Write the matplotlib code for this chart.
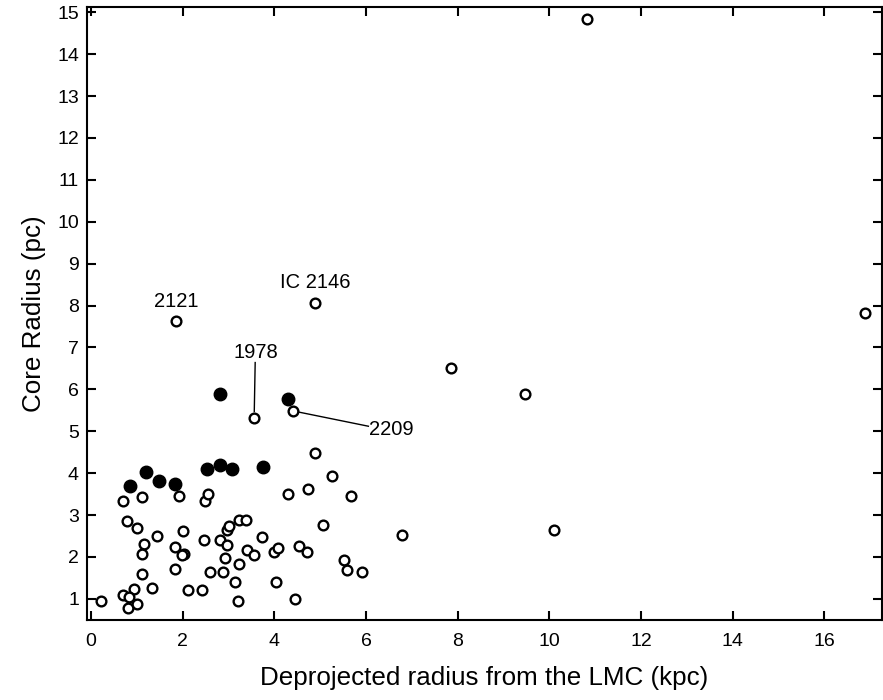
import matplotlib
matplotlib.use('Agg')
import matplotlib.pyplot as plt

plt.rcParams['font.family'] = ['Liberation Sans', 'DejaVu Sans']

# open circles: deprojected radius (kpc), core radius (pc)
open_x = [0.22, 0.69, 1.11, 1.92, 2.48, 2.56, 0.78, 1.00, 1.44, 1.16, 1.10,
          2.00, 1.84, 2.03, 1.99, 2.47, 2.81, 2.96, 2.96, 3.00, 3.22, 3.38, 3.73,
          3.41, 3.55, 4.00, 4.08, 2.92, 3.23, 2.88, 2.59, 1.82, 1.10, 3.15, 1.33,
          2.11, 2.41, 0.93, 0.69, 0.82, 0.81, 1.00, 3.20, 4.03, 4.89, 5.25, 4.74,
          4.29, 5.66, 5.07, 4.54, 4.70, 5.51, 5.59, 5.91, 4.44, 6.78,
          7.85, 9.47, 10.10, 10.83, 16.89,
          1.86, 4.89, 3.55, 4.41]
open_y = [0.94, 3.34, 3.42, 3.46, 3.34, 3.51, 2.85, 2.69, 2.49, 2.32, 2.08,
          2.61, 2.24, 2.08, 2.04, 2.41, 2.41, 2.28, 2.65, 2.75, 2.89, 2.89, 2.48,
          2.16, 2.04, 2.12, 2.21, 1.97, 1.83, 1.64, 1.64, 1.72, 1.60, 1.39, 1.27,
          1.22, 1.22, 1.23, 1.08, 1.04, 0.78, 0.88, 0.94, 1.39, 4.48, 3.94, 3.62,
          3.50, 3.46, 2.77, 2.25, 2.12, 1.92, 1.68, 1.64, 0.99, 2.53,
          6.52, 5.88, 2.65, 14.83, 7.83,
          7.63, 8.07, 5.32, 5.48]

# filled circles
fill_x = [0.84, 1.19, 1.48, 1.82, 2.52, 2.81, 3.07, 3.74, 2.81, 4.29]
fill_y = [3.70, 4.03, 3.82, 3.75, 4.10, 4.19, 4.11, 4.15, 5.89, 5.76]

fig = plt.figure(figsize=(8.83, 7.0), dpi=100)
ax = fig.add_axes([0.098, 0.114, 0.9005, 0.8756])

ax.plot(open_x, open_y, 'o', ms=7.0, mfc='white', mec='black', mew=1.7, ls='none')
ax.plot(fill_x, fill_y, 'o', ms=9.0, mfc='black', mec='black', ls='none')

# labels for individual clusters
ax.text(1.86, 8.09, '2121', ha='center', va='center', fontsize=14.5)
ax.text(4.89, 8.54, 'IC 2146', ha='center', va='center', fontsize=14.5)
ax.text(3.60, 6.89, '1978', ha='center', va='center', fontsize=14.5)
ax.plot([3.58, 3.56], [6.64, 5.47], color='black', lw=1.0)
ax.text(6.54, 5.04, '2209', ha='center', va='center', fontsize=14.5)
ax.plot([4.52, 6.05], [5.46, 5.12], color='black', lw=1.0)

ax.set_xlim(-0.1, 17.25)
ax.set_ylim(0.49, 15.12)
ax.set_xticks(range(0, 17, 2))
ax.set_yticks(range(1, 16))

ax.tick_params(direction='in', top=True, right=True, length=6.5, width=1.5,
               labelsize=14)
ax.tick_params(axis='x', pad=9)
ax.tick_params(axis='y', pad=5.5)
for s in ax.spines.values():
    s.set_linewidth(1.5)

ax.set_xlabel('Deprojected radius from the LMC (kpc)', fontsize=18.7, labelpad=12)
ax.set_ylabel('Core Radius (pc)', fontsize=18.7, labelpad=8)

fig.savefig('out.png', dpi=100)
